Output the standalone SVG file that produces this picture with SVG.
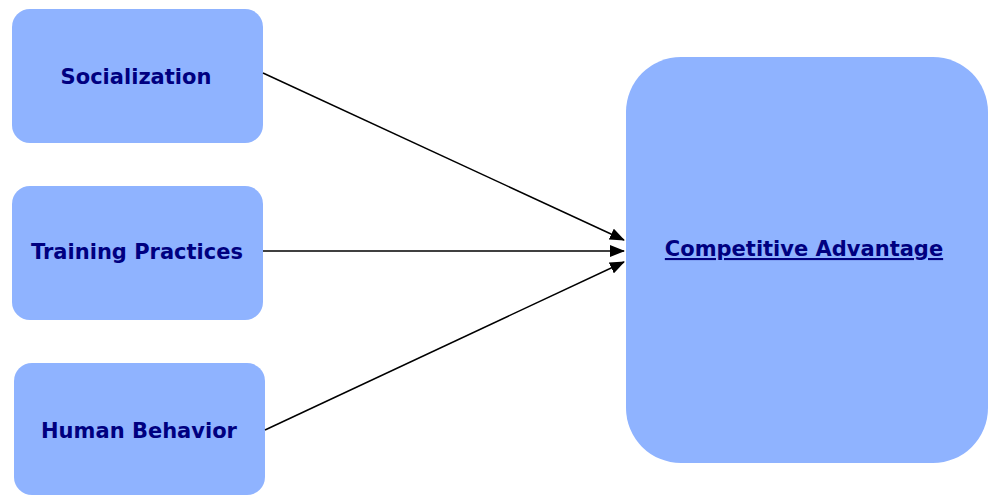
<svg xmlns="http://www.w3.org/2000/svg" width="988" height="495" viewBox="0 0 988 495">
<style>
.box{fill:#8fb3ff;}
.lbl{font-family:"DejaVu Sans",Verdana,sans-serif;font-weight:bold;font-size:21px;fill:#000080;text-anchor:middle;}
.edge{stroke:#000;stroke-width:1.5;fill:none;marker-end:url(#ah);}
</style>
<defs>
<marker id="ah" markerWidth="15" markerHeight="12" refX="14" refY="6" orient="auto" markerUnits="userSpaceOnUse">
<path d="M0,0 L15,6 L0,12 Z" fill="#000"/>
</marker>
</defs>
<rect width="988" height="495" fill="#fff"/>
<g id="socialization"><rect class="box" x="12" y="9" width="251" height="134" rx="18"/><text class="lbl" x="136" y="84">Socialization</text></g>
<g id="training"><rect class="box" x="12" y="186" width="251" height="134" rx="18"/><text class="lbl" x="137" y="259">Training Practices</text></g>
<g id="behavior"><rect class="box" x="14" y="363" width="251" height="132" rx="18"/><text class="lbl" x="139" y="438">Human Behavior</text></g>
<g id="advantage"><rect class="box" x="626" y="57" width="362" height="406" rx="55"/><text class="lbl" x="804" y="256" text-decoration="underline">Competitive Advantage</text></g>
<g id="connectors">
<line class="edge" x1="263" y1="73" x2="624" y2="240"/>
<line class="edge" x1="263" y1="251" x2="624" y2="251"/>
<line class="edge" x1="265" y1="430" x2="624" y2="262"/>
</g>
</svg>
